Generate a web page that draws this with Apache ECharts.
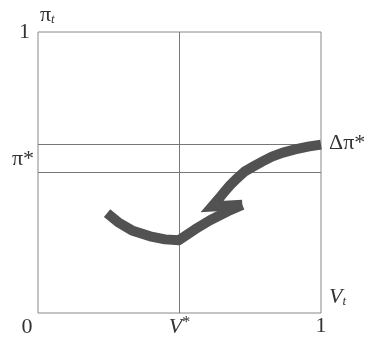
<!DOCTYPE html>
<html>
<head>
<meta charset="utf-8">
<script src="https://cdn.jsdelivr.net/npm/echarts@6/dist/echarts.min.js"></script>
<style>
  html, body { margin: 0; padding: 0; background: #fff; }
  #chart { width: 371px; height: 338px; }
</style>
</head>
<body>
<div id="chart"></div>
<script>
// path of the curve (V_t, pi_t); the lower stroke ends at index 9
var pathV  = [0.244, 0.283, 0.332, 0.396, 0.449, 0.498, 0.555, 0.608, 0.671, 0.722, 0.615,
              0.640, 0.657, 0.678, 0.703, 0.731, 0.760, 0.792, 0.827, 0.866, 0.908, 0.954, 1.0];
var pathPi = [0.355, 0.323, 0.294, 0.273, 0.262, 0.259, 0.298, 0.330, 0.362, 0.385, 0.379,
              0.408, 0.429, 0.454, 0.479, 0.504, 0.521, 0.539, 0.557, 0.571, 0.582, 0.592, 0.599];
var breakAt = 9;

var vStar = 0.5;
var piStar = 0.5;
var piTop = 0.6;
var xTickVals = [0.5, 1];
var xTickText = ['{i|V}{s|*}', '1'];
var yTickVals = [1];
var yTickText = ['1'];

var serif = '"Liberation Serif", "Times New Roman", serif';

window.onload = function () {
    var chart = echarts.init(document.getElementById('chart'));

    var lower = [], upper = [];
    for (var i = 0; i < pathV.length; i++) {
        if (i <= breakAt) lower.push([pathV[i], pathPi[i]]);
        if (i >= breakAt) upper.push([pathV[i], pathPi[i]]);
    }

    var option = {
        animation: false,
        grid: {
            left: 38, right: 50, top: 32, bottom: 24,
            show: true, borderColor: '#888', borderWidth: 1
        },
        xAxis: {
            type: 'value', min: 0, max: 1, interval: 0.5,
            axisLine: { show: false }, axisTick: { show: false }, splitLine: { show: false },
            axisLabel: {
                margin: 2,
                fontFamily: serif, fontSize: 22, color: '#333',
                formatter: function (v) {
                    var k = xTickVals.indexOf(v);
                    return k < 0 ? '' : xTickText[k];
                },
                rich: {
                    i: { fontFamily: serif, fontStyle: 'italic', fontSize: 22, color: '#333' },
                    s: { fontFamily: serif, fontSize: 16, color: '#333', verticalAlign: 'top', padding: [0, 0, 8, 0] }
                }
            }
        },
        yAxis: {
            type: 'value', min: 0, max: 1, interval: 0.5,
            axisLine: { show: false }, axisTick: { show: false }, splitLine: { show: false },
            axisLabel: {
                margin: 8,
                fontFamily: serif, fontSize: 22, color: '#333',
                formatter: function (v) {
                    var k = yTickVals.indexOf(v);
                    return k < 0 ? '' : yTickText[k];
                }
            }
        },
        series: [{
            type: 'line',
            data: lower,
            showSymbol: false,
            lineStyle: { color: '#525252', width: 10, join: 'round', cap: 'butt' },
            markLine: {
                silent: true,
                symbol: 'none',
                label: { show: false },
                lineStyle: { color: '#777', width: 1, type: 'solid' },
                data: [
                    { xAxis: vStar },
                    { yAxis: piStar },
                    { yAxis: piTop }
                ]
            },
            z: 5
        }, {
            type: 'line',
            data: upper,
            showSymbol: false,
            lineStyle: { color: '#525252', width: 10, join: 'miter', miterLimit: 20, cap: 'butt' },
            z: 5
        }]
    };
    chart.setOption(option);

    // text labels placed at data positions
    function at(x, y) { return chart.convertToPixel({ gridIndex: 0 }, [x, y]); }
    var p0 = at(0, 0), pS = at(0, (piStar + piTop) / 2), pD = at(1, piTop),
        pT = at(0, 1), pV = at(1, 0);
    var txt = { fontFamily: serif, fontSize: 22, fill: '#333' };

    chart.setOption({
        graphic: [
            { type: 'text', x: p0[0] - 11, y: p0[1] + 14,
              style: Object.assign({ text: '0', align: 'center', verticalAlign: 'middle' }, txt) },
            { type: 'text', x: pS[0] - 4, y: pS[1] + 1,
              style: Object.assign({ text: 'π*', align: 'right', verticalAlign: 'middle' }, txt) },
            { type: 'text', x: pD[0] + 8, y: pD[1] - 1,
              style: Object.assign({ text: 'Δπ*', align: 'left', verticalAlign: 'middle' }, txt) },
            { type: 'text', x: pT[0] + 2, y: pT[1] - 17,
              style: {
                  text: '{a|π}{b|t}', verticalAlign: 'middle',
                  rich: {
                      a: { fontFamily: serif, fontSize: 22, fill: '#333' },
                      b: { fontFamily: serif, fontStyle: 'italic', fontSize: 13, fill: '#333', verticalAlign: 'bottom', padding: [8, 0, 0, 0] }
                  }
              } },
            { type: 'text', x: pV[0] + 8, y: pV[1] - 16,
              style: {
                  text: '{a|V}{b|t}', verticalAlign: 'middle',
                  rich: {
                      a: { fontFamily: serif, fontStyle: 'italic', fontSize: 22, fill: '#333' },
                      b: { fontFamily: serif, fontStyle: 'italic', fontSize: 13, fill: '#333', verticalAlign: 'bottom', padding: [8, 0, 0, 0] }
                  }
              } }
        ]
    });
};
</script>
</body>
</html>
